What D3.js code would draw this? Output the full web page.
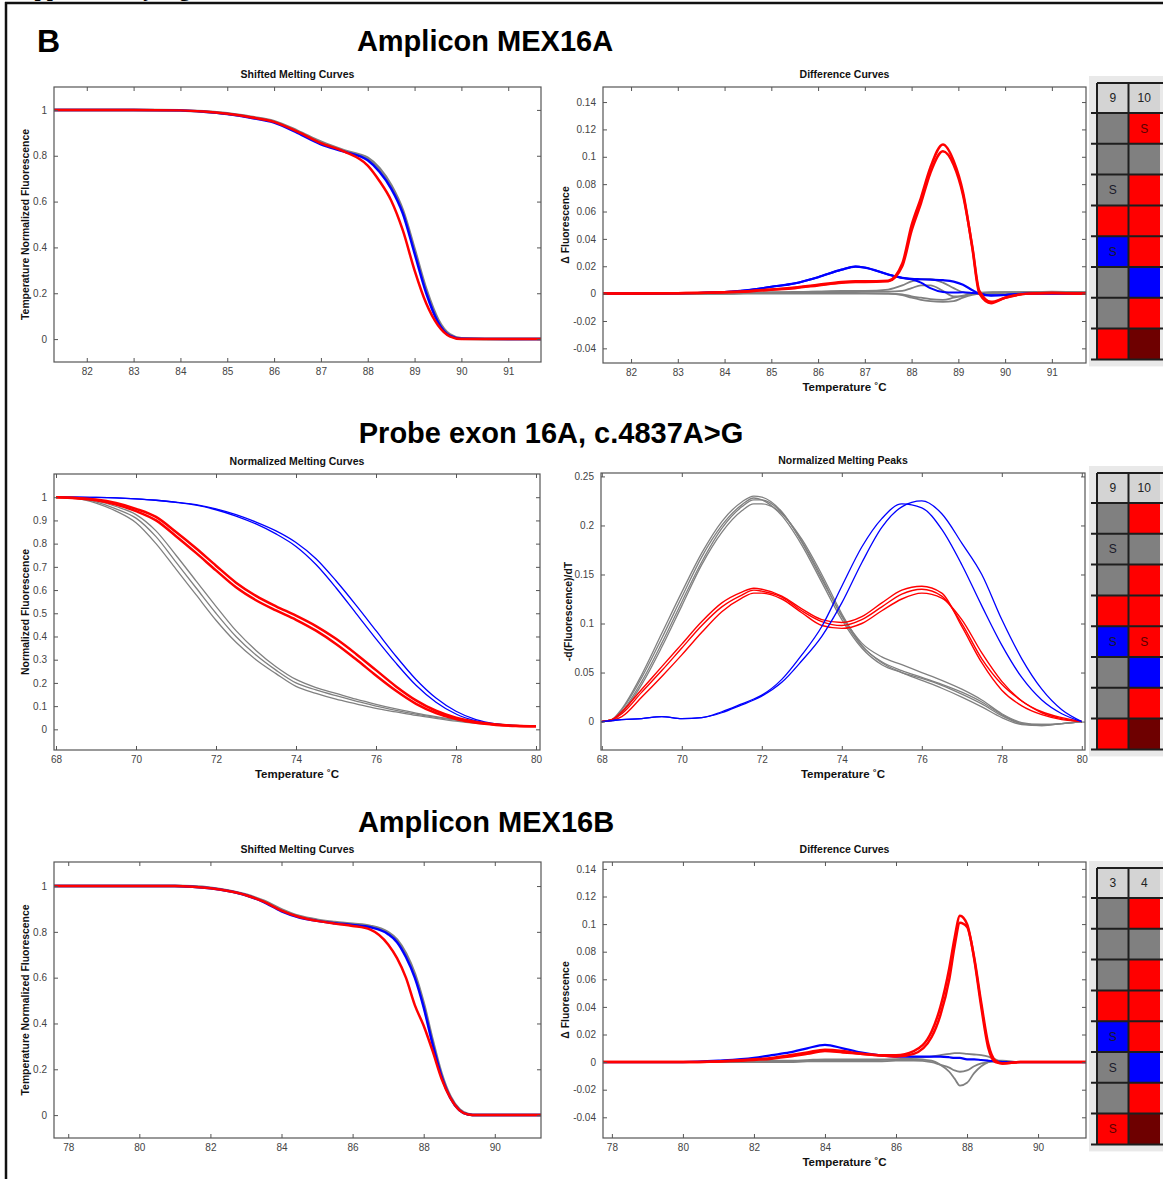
<!DOCTYPE html>
<html>
<head>
<meta charset="utf-8">
<script src="https://d3js.org/d3.v7.min.js"></script>
<style>
  body { margin: 0; background: #fff; }
  svg text { font-family: "Liberation Sans", Arial, sans-serif; }
  .tick text { fill: #444; font-size: 10px; }
  .tick line { stroke: #555; }
  .ptitle { font-weight: bold; font-size: 10.5px; fill: #111; }
  .alabel { font-weight: bold; font-size: 10.4px; fill: #111; }
  .maintitle { font-weight: bold; font-size: 29px; fill: #000; }
</style>
</head>
<body>
<svg id="fig" width="1163" height="1179"></svg>
<script>
/*
    DATA
    one temperature array per panel, one value array per curve
*/

// Amplicon MEX16A, shifted melting curves
var t1 = [81.3, 82, 83, 84, 84.5, 85, 85.5, 86, 86.5, 87, 87.5, 88, 88.25, 88.5, 88.75, 89, 89.25, 89.5, 89.75, 90, 91, 91.7];
var p1Gray = [1, 1, 1, 0.998, 0.993, 0.984, 0.969, 0.95, 0.908, 0.86, 0.822, 0.79, 0.745, 0.67, 0.56, 0.39, 0.215, 0.085, 0.02, 0.003, 0, 0];
var p1Blue = [1, 1, 1, 0.998, 0.992, 0.982, 0.966, 0.945, 0.9, 0.85, 0.818, 0.78, 0.73, 0.657, 0.548, 0.374, 0.2, 0.074, 0.015, 0.002, 0, 0];
var p1Red  = [1, 1, 1, 0.998, 0.993, 0.983, 0.968, 0.948, 0.905, 0.855, 0.818, 0.757, 0.69, 0.605, 0.474, 0.30, 0.155, 0.06, 0.012, 0, 0, 0];

// Amplicon MEX16A, difference curves
var t2 = [81.4, 82, 83, 84, 84.5, 85, 85.5, 86, 86.5, 86.8, 87, 87.5, 87.8, 88, 88.2, 88.4, 88.67, 88.9, 89.1, 89.3, 89.45, 89.7, 90, 90.5, 91, 91.73];
var p2Gray1 = [0, 0, 0, 0, 0.0005, 0.0008, 0.001, 0.0015, 0.002, 0.002, 0.002, 0.003, 0.006, 0.009, 0.0105, 0.0105, 0.008, 0.004, 0.001, 0, 0, 0, 0.0005, 0.001, 0.001, 0];
var p2Gray2 = [0, 0, 0, 0, 0.0003, 0.0005, 0.0005, 0.0005, 0.0005, 0.0005, 0.0003, 0, -0.001, -0.003, -0.0045, -0.0055, -0.006, -0.0055, -0.003, -0.001, 0, 0.0005, 0.0008, 0.001, 0.0015, 0.001];
var p2Gray3 = [0, 0, 0, 0.0002, 0.0005, 0.001, 0.0012, 0.0015, 0.0015, 0.0015, 0.0015, 0.0015, 0.002, 0.004, 0.006, 0.006, 0.002, -0.002, -0.002, 0, 0.0005, 0.0008, 0.001, 0.001, 0.0012, 0.001];
var p2Gray4 = [0, 0, 0, 0, 0, 0, 0, 0, 0, 0, 0, 0, -0.0005, -0.002, -0.003, -0.004, -0.0045, -0.003, -0.0015, 0, 0.0008, 0.001, 0.001, 0.0005, 0.001, 0.0005];
var p2Blue1 = [0, 0, 0.0003, 0.0012, 0.0025, 0.005, 0.0075, 0.012, 0.0175, 0.0198, 0.019, 0.014, 0.0115, 0.0108, 0.0105, 0.0102, 0.0098, 0.0088, 0.0065, 0.0025, 0, -0.0015, -0.001, 0, 0, 0];
var p2Blue2 = [0, 0, 0.0003, 0.0012, 0.0025, 0.005, 0.0075, 0.012, 0.0175, 0.0198, 0.019, 0.014, 0.0115, 0.0105, 0.008, 0.004, 0.0012, 0.0008, 0.001, 0.0005, 0, -0.0012, -0.001, 0, 0, 0];
var p2Red1 = [0, 0, 0.0003, 0.001, 0.0018, 0.003, 0.0045, 0.0065, 0.0085, 0.009, 0.009, 0.0095, 0.022, 0.05, 0.07, 0.092, 0.109, 0.097, 0.074, 0.033, 0.0, -0.007, -0.003, 0, 0.0005, 0];
var p2Red2 = [0, 0, 0.0003, 0.001, 0.0016, 0.0028, 0.004, 0.006, 0.008, 0.0085, 0.0085, 0.009, 0.02, 0.046, 0.066, 0.088, 0.104, 0.094, 0.072, 0.034, 0.002, -0.006, -0.003, 0, 0.0005, 0];

// Probe exon 16A, normalized melting curves
var t3 = [68, 68.5, 69, 69.5, 70, 70.5, 71, 71.5, 72, 72.5, 73, 73.5, 74, 74.5, 75, 75.5, 76, 76.5, 77, 77.5, 78, 78.5, 79, 79.5, 80];
var p3GrayA = [1, 0.997, 0.98, 0.95, 0.91, 0.83, 0.72, 0.61, 0.50, 0.40, 0.32, 0.255, 0.2, 0.17, 0.145, 0.122, 0.1, 0.082, 0.066, 0.052, 0.04, 0.03, 0.022, 0.016, 0.013];
var p3GrayB = [1, 0.995, 0.975, 0.94, 0.89, 0.8, 0.69, 0.58, 0.47, 0.375, 0.3, 0.24, 0.185, 0.155, 0.13, 0.11, 0.09, 0.075, 0.06, 0.047, 0.035, 0.026, 0.02, 0.015, 0.013];
var p3GrayC = [1, 0.998, 0.985, 0.96, 0.925, 0.855, 0.75, 0.64, 0.53, 0.425, 0.34, 0.27, 0.215, 0.18, 0.155, 0.13, 0.108, 0.088, 0.07, 0.055, 0.042, 0.032, 0.023, 0.017, 0.013];
var p3Red1 = [1, 0.997, 0.99, 0.975, 0.95, 0.915, 0.85, 0.78, 0.705, 0.632, 0.575, 0.53, 0.49, 0.445, 0.39, 0.325, 0.255, 0.185, 0.125, 0.08, 0.05, 0.032, 0.021, 0.015, 0.013];
var p3Red2 = [1, 0.996, 0.987, 0.968, 0.94, 0.9, 0.832, 0.76, 0.685, 0.612, 0.556, 0.512, 0.472, 0.425, 0.368, 0.302, 0.232, 0.166, 0.11, 0.07, 0.044, 0.028, 0.019, 0.014, 0.013];
var p3Blue1 = [1, 1, 0.999, 0.997, 0.993, 0.987, 0.979, 0.968, 0.95, 0.925, 0.893, 0.855, 0.805, 0.735, 0.64, 0.535, 0.425, 0.315, 0.215, 0.135, 0.078, 0.042, 0.024, 0.016, 0.013];
var p3Blue2 = [1, 1, 0.999, 0.997, 0.993, 0.987, 0.978, 0.966, 0.946, 0.919, 0.885, 0.842, 0.788, 0.71, 0.61, 0.5, 0.39, 0.285, 0.19, 0.117, 0.066, 0.036, 0.021, 0.015, 0.013];

// Probe exon 16A, normalized melting peaks
var t4 = [68, 68.25, 68.5, 69, 69.5, 70, 70.5, 71, 71.5, 71.8, 72, 72.5, 73, 73.5, 74, 74.5, 75, 75.5, 76, 76.5, 77, 77.5, 78, 78.5, 79, 79.5, 80];
var p4Gray1 = [0, 0.002, 0.012, 0.045, 0.085, 0.127, 0.168, 0.2, 0.221, 0.228, 0.226, 0.21, 0.18, 0.142, 0.104, 0.075, 0.058, 0.05, 0.044, 0.037, 0.028, 0.018, 0.006, -0.002, -0.003, -0.002, 0];
var p4Gray2 = [0, 0.001, 0.009, 0.038, 0.076, 0.118, 0.16, 0.193, 0.215, 0.222, 0.222, 0.212, 0.186, 0.15, 0.11, 0.078, 0.06, 0.05, 0.042, 0.034, 0.025, 0.015, 0.004, -0.003, -0.004, -0.002, 0];
var p4Gray3 = [0, 0.002, 0.013, 0.048, 0.09, 0.132, 0.172, 0.204, 0.224, 0.23, 0.229, 0.214, 0.183, 0.145, 0.108, 0.08, 0.066, 0.058, 0.05, 0.042, 0.033, 0.022, 0.008, -0.001, -0.003, -0.002, 0];
var p4Gray4 = [0, 0.001, 0.01, 0.041, 0.08, 0.122, 0.163, 0.197, 0.219, 0.226, 0.226, 0.213, 0.184, 0.147, 0.107, 0.077, 0.061, 0.052, 0.045, 0.038, 0.03, 0.02, 0.007, -0.002, -0.004, -0.002, 0];
var p4Red1 = [0, 0.002, 0.008, 0.03, 0.052, 0.075, 0.098, 0.117, 0.129, 0.134, 0.133, 0.127, 0.113, 0.102, 0.098, 0.104, 0.117, 0.13, 0.135, 0.128, 0.1, 0.064, 0.038, 0.021, 0.009, 0.003, 0];
var p4Red2 = [0, 0.001, 0.005, 0.025, 0.046, 0.068, 0.091, 0.112, 0.126, 0.131, 0.131, 0.125, 0.111, 0.098, 0.095, 0.1, 0.113, 0.125, 0.131, 0.126, 0.104, 0.07, 0.041, 0.021, 0.01, 0.004, 0];
var p4Red3 = [0, 0.002, 0.01, 0.033, 0.056, 0.079, 0.102, 0.121, 0.132, 0.136, 0.135, 0.128, 0.115, 0.104, 0.101, 0.107, 0.121, 0.134, 0.138, 0.131, 0.097, 0.06, 0.032, 0.016, 0.007, 0.002, 0];
var p4Blue1 = [0, 0.001, 0.002, 0.003, 0.005, 0.003, 0.004, 0.01, 0.018, 0.023, 0.027, 0.043, 0.068, 0.097, 0.138, 0.178, 0.207, 0.222, 0.218, 0.196, 0.16, 0.118, 0.078, 0.045, 0.022, 0.008, 0];
var p4Blue2 = [0, 0.001, 0.002, 0.003, 0.005, 0.003, 0.004, 0.009, 0.017, 0.022, 0.026, 0.04, 0.062, 0.087, 0.121, 0.162, 0.198, 0.219, 0.225, 0.212, 0.182, 0.15, 0.104, 0.064, 0.033, 0.012, 0];

// Amplicon MEX16B, shifted melting curves
var t5 = [77.6, 78, 80, 81, 81.5, 82, 82.5, 83, 83.5, 84, 84.5, 85, 85.5, 86, 86.5, 87, 87.25, 87.5, 87.75, 88, 88.25, 88.5, 88.75, 89, 89.25, 89.5, 90, 91.3];
var p5Gray = [1, 1, 1, 1, 0.998, 0.992, 0.98, 0.962, 0.935, 0.897, 0.868, 0.852, 0.842, 0.834, 0.825, 0.797, 0.765, 0.705, 0.615, 0.485, 0.325, 0.18, 0.08, 0.025, 0.004, 0, 0, 0];
var p5Blue = [1, 1, 1, 1, 0.997, 0.99, 0.978, 0.96, 0.93, 0.89, 0.863, 0.848, 0.838, 0.83, 0.82, 0.79, 0.755, 0.69, 0.6, 0.47, 0.31, 0.17, 0.075, 0.022, 0.003, 0, 0, 0];
var p5Red  = [1, 1, 1, 1, 0.997, 0.99, 0.978, 0.96, 0.932, 0.893, 0.865, 0.848, 0.836, 0.826, 0.81, 0.745, 0.685, 0.6, 0.48, 0.39, 0.28, 0.16, 0.075, 0.022, 0.003, 0, 0, 0];

// Amplicon MEX16B, difference curves
var t6 = [77.75, 78, 80, 81, 82, 82.5, 83, 83.5, 84, 84.5, 85, 85.5, 86, 86.5, 87, 87.25, 87.5, 87.65, 87.8, 88, 88.2, 88.4, 88.6, 88.8, 89, 89.5, 90, 91.35];
var p6Gray1 = [0, 0, 0, 0, 0.0005, 0.001, 0.001, 0.0015, 0.002, 0.002, 0.002, 0.002, 0.002, 0.002, 0.001, -0.002, -0.007, -0.012, -0.017, -0.015, -0.008, -0.003, 0, 0.001, 0.001, 0, 0, 0];
var p6Gray2 = [0, 0, 0, 0, 0, 0.0005, 0.0005, 0.001, 0.001, 0.001, 0.001, 0.0015, 0.002, 0.003, 0.004, 0.005, 0.006, 0.0065, 0.0065, 0.006, 0.0055, 0.005, 0.004, 0.002, 0, 0, 0, 0];
var p6Gray3 = [0, 0, 0, 0, 0, 0, 0, 0.0005, 0.0005, 0.0005, 0.0005, 0.0005, 0.001, 0.001, 0, -0.002, -0.004, -0.006, -0.007, -0.006, -0.003, -0.001, 0, 0.0005, 0, 0, 0, 0];
var p6Blue = [0, 0, 0, 0.001, 0.003, 0.005, 0.007, 0.01, 0.0125, 0.01, 0.007, 0.005, 0.004, 0.004, 0.004, 0.004, 0.0035, 0.003, 0.003, 0.002, 0.002, 0.0015, 0.001, 0.0005, 0, 0, 0, 0];
var p6Red1 = [0, 0, 0, 0.0005, 0.002, 0.003, 0.005, 0.007, 0.009, 0.008, 0.006, 0.005, 0.005, 0.008, 0.022, 0.04, 0.068, 0.09, 0.106, 0.1, 0.075, 0.04, 0.01, 0, -0.001, 0, 0, 0];
var p6Red2 = [0, 0, 0, 0.0005, 0.0015, 0.0025, 0.004, 0.006, 0.008, 0.007, 0.006, 0.005, 0.004, 0.006, 0.018, 0.034, 0.06, 0.084, 0.101, 0.098, 0.076, 0.043, 0.013, 0.001, -0.001, 0, 0, 0];

// tick values
var ticksA = [82, 83, 84, 85, 86, 87, 88, 89, 90, 91];
var ticksProbe = [68, 70, 72, 74, 76, 78, 80];
var ticksB = [78, 80, 82, 84, 86, 88, 90];
var ticksNorm = [0, 0.2, 0.4, 0.6, 0.8, 1];
var ticksDiff = [-0.04, -0.02, 0, 0.02, 0.04, 0.06, 0.08, 0.1, 0.12, 0.14];
var ticksProbeNorm = [0, 0.1, 0.2, 0.3, 0.4, 0.5, 0.6, 0.7, 0.8, 0.9, 1];
var ticksPeaks = [0, 0.05, 0.1, 0.15, 0.2, 0.25];

// plate maps (g gray, r red, b blue, d dark red) and "S" marks
var plateAHeader = ["9", "10"];
var plateACells = [["g","r"],["g","g"],["g","r"],["r","r"],["b","r"],["g","b"],["g","r"],["r","d"]];
var plateAMarks = [["","S"],["",""],["S",""],["",""],["S",""],["",""],["",""],["",""]];
var plateBHeader = ["9", "10"];
var plateBCells = [["g","r"],["g","g"],["g","r"],["r","r"],["b","r"],["g","b"],["g","r"],["r","d"]];
var plateBMarks = [["",""],["S",""],["",""],["",""],["S","S"],["",""],["",""],["",""]];
var plateCHeader = ["3", "4"];
var plateCCells = [["g","r"],["g","g"],["g","r"],["r","r"],["b","r"],["g","b"],["g","r"],["r","d"]];
var plateCMarks = [["",""],["",""],["",""],["",""],["S",""],["S",""],["",""],["S",""]];

/*
    STYLE
*/
var GRAY = "#808080", RED = "#ff0000", BLUE = "#0000ff";
var cellFill = {g: "#808080", r: "#ff0000", b: "#0000ff", d: "#6e0000"};

var svg = d3.select("#fig");

function serie(temps, vals, color, width) {
  return {temps: temps, values: vals, color: color, width: width};
}

var panels = [
  {id: "p1", left: 54, right: 541, top: 87, bottom: 362, xDomain: [81.3, 91.7], yDomain: [-0.1, 1.1],
   xTicks: ticksA, yTicks: ticksNorm, title: "Shifted Melting Curves",
   ylabel: "Temperature Normalized Fluorescence", ylabelX: 25, xlabel: null,
   series: [serie(t1, p1Gray, GRAY, 3), serie(t1, p1Blue, BLUE, 2.5), serie(t1, p1Red, RED, 2.5)]},
  {id: "p2", left: 603, right: 1086, top: 87, bottom: 363, xDomain: [81.4, 91.73], yDomain: [-0.0507, 0.151],
   xTicks: ticksA, yTicks: ticksDiff, title: "Difference Curves",
   ylabel: "\u0394 Fluorescence", ylabelX: 565, xlabel: "Temperature \u02DAC",
   series: [serie(t2, p2Gray1, GRAY, 1.8), serie(t2, p2Gray2, GRAY, 1.8), serie(t2, p2Gray3, GRAY, 1.8), serie(t2, p2Gray4, GRAY, 1.8),
            serie(t2, p2Blue1, BLUE, 2.2), serie(t2, p2Blue2, BLUE, 2),
            serie(t2, p2Red2, RED, 2.5), serie(t2, p2Red1, RED, 2.5)]},
  {id: "p3", left: 54, right: 540, top: 474, bottom: 750, xDomain: [67.95, 80.1], yDomain: [-0.089, 1.1],
   xTicks: ticksProbe, yTicks: ticksProbeNorm, title: "Normalized Melting Curves",
   ylabel: "Normalized Fluorescence", ylabelX: 25, xlabel: "Temperature \u02DAC",
   series: [serie(t3, p3GrayB, GRAY, 1.3), serie(t3, p3GrayA, GRAY, 1.3), serie(t3, p3GrayC, GRAY, 1.3),
            serie(t3, p3Blue1, BLUE, 1.3), serie(t3, p3Blue2, BLUE, 1.3),
            serie(t3, p3Red1, RED, 2.5), serie(t3, p3Red2, RED, 2.5)]},
  {id: "p4", left: 601, right: 1085, top: 473, bottom: 750, xDomain: [67.98, 80.08], yDomain: [-0.029, 0.2535],
   xTicks: ticksProbe, yTicks: ticksPeaks, title: "Normalized Melting Peaks",
   ylabel: "-d(Fluorescence)/dT", ylabelX: 568, xlabel: "Temperature \u02DAC",
   series: [serie(t4, p4Gray1, GRAY, 1.3), serie(t4, p4Gray2, GRAY, 1.3), serie(t4, p4Gray3, GRAY, 1.3), serie(t4, p4Gray4, GRAY, 1.3),
            serie(t4, p4Red1, RED, 1.4), serie(t4, p4Red2, RED, 1.4), serie(t4, p4Red3, RED, 1.4),
            serie(t4, p4Blue1, BLUE, 1.3), serie(t4, p4Blue2, BLUE, 1.3)]},
  {id: "p5", left: 54, right: 541, top: 862, bottom: 1138, xDomain: [77.6, 91.3], yDomain: [-0.1, 1.105],
   xTicks: ticksB, yTicks: ticksNorm, title: "Shifted Melting Curves",
   ylabel: "Temperature Normalized Fluorescence", ylabelX: 25, xlabel: null,
   series: [serie(t5, p5Gray, GRAY, 3), serie(t5, p5Blue, BLUE, 2.5), serie(t5, p5Red, RED, 2.5)]},
  {id: "p6", left: 603, right: 1086, top: 862, bottom: 1138, xDomain: [77.75, 91.35], yDomain: [-0.055, 0.145],
   xTicks: ticksB, yTicks: ticksDiff, title: "Difference Curves",
   ylabel: "\u0394 Fluorescence", ylabelX: 565, xlabel: "Temperature \u02DAC",
   series: [serie(t6, p6Gray1, GRAY, 1.8), serie(t6, p6Gray2, GRAY, 1.8), serie(t6, p6Gray3, GRAY, 1.8),
            serie(t6, p6Blue, BLUE, 2.2),
            serie(t6, p6Red2, RED, 2.5), serie(t6, p6Red1, RED, 2.5)]}
];

var plates = [
  {top: 83, header: plateAHeader, cells: plateACells, marks: plateAMarks},
  {top: 473, header: plateBHeader, cells: plateBCells, marks: plateBMarks},
  {top: 868, header: plateCHeader, cells: plateCCells, marks: plateCMarks}
];

/*
    DRAW
*/
function fmtTick(d) { return String(+d.toFixed(2)); }

function drawPanel(p) {
  var w = p.right - p.left, h = p.bottom - p.top;
  var g = svg.append("g").attr("transform", "translate(" + p.left + "," + p.top + ")");

  var x = d3.scaleLinear().domain(p.xDomain).range([0, w]);
  var y = d3.scaleLinear().domain(p.yDomain).range([h, 0]);

  g.append("clipPath").attr("id", p.id + "-clip")
    .append("rect").attr("width", w).attr("height", h);

  var line = d3.line()
    .x(function(d) { return x(d[0]); })
    .y(function(d) { return y(d[1]); })
    .curve(d3.curveMonotoneX);

  var plot = g.append("g").attr("clip-path", "url(#" + p.id + "-clip)");
  p.series.forEach(function(s) {
    plot.append("path")
      .datum(s.values.map(function(v, i) { return [s.temps[i], v]; }))
      .attr("fill", "none")
      .attr("stroke", s.color)
      .attr("stroke-width", s.width)
      .attr("stroke-linejoin", "round")
      .attr("d", line);
  });

  // MATLAB-like box, ticks inward on all sides
  g.append("g").attr("transform", "translate(0," + h + ")")
    .call(d3.axisBottom(x).tickValues(p.xTicks).tickSizeInner(-4).tickSizeOuter(0).tickPadding(6).tickFormat(d3.format("d")));
  g.append("g")
    .call(d3.axisTop(x).tickValues(p.xTicks).tickSizeInner(-4).tickSizeOuter(0).tickFormat(""));
  g.append("g")
    .call(d3.axisLeft(y).tickValues(p.yTicks).tickSizeInner(-4).tickSizeOuter(0).tickPadding(7).tickFormat(fmtTick));
  g.append("g").attr("transform", "translate(" + w + ",0)")
    .call(d3.axisRight(y).tickValues(p.yTicks).tickSizeInner(-4).tickSizeOuter(0).tickFormat(""));
  g.selectAll(".domain").remove();
  g.selectAll(".tick text").attr("font-family", null);

  g.append("rect").attr("width", w).attr("height", h)
    .attr("fill", "none").attr("stroke", "#555").attr("stroke-width", 1.2);

  svg.append("text").attr("class", "ptitle")
    .attr("x", p.left + w / 2).attr("y", p.top - 9)
    .attr("text-anchor", "middle").text(p.title);

  svg.append("text").attr("class", "alabel")
    .attr("transform", "translate(" + p.ylabelX + "," + (p.top + h / 2) + ") rotate(-90)")
    .attr("text-anchor", "middle").attr("dy", "0.35em").text(p.ylabel);

  if (p.xlabel) {
    svg.append("text").attr("class", "alabel")
      .attr("x", p.left + w / 2).attr("y", p.bottom + 28)
      .attr("text-anchor", "middle").style("font-size", "11.5px").text(p.xlabel);
  }
}

function drawPlate(pl) {
  var x0 = 1097, colW = 31.5, headH = 30, rowH = 30.8;
  var nRows = pl.cells.length;
  var bottom = pl.top + headH + nRows * rowH;
  var g = svg.append("g");

  g.append("rect").attr("x", 1089).attr("y", pl.top - 7)
    .attr("width", 80).attr("height", bottom - pl.top + 14).attr("fill", "#e9e9e9");

  pl.header.forEach(function(hd, j) {
    g.append("rect").attr("x", x0 + j * colW).attr("y", pl.top)
      .attr("width", colW).attr("height", headH).attr("fill", "#d4d4d4");
    g.append("text").attr("x", x0 + j * colW + colW / 2).attr("y", pl.top + headH / 2)
      .attr("dy", "0.35em").attr("text-anchor", "middle")
      .style("font-size", "12px").style("fill", "#222").text(hd);
  });

  pl.cells.forEach(function(row, i) {
    row.forEach(function(c, j) {
      var cx = x0 + j * colW, cy = pl.top + headH + i * rowH;
      g.append("rect").attr("x", cx).attr("y", cy)
        .attr("width", colW).attr("height", rowH).attr("fill", cellFill[c]);
      if (pl.marks[i][j]) {
        g.append("text").attr("x", cx + colW / 2).attr("y", cy + rowH / 2)
          .attr("dy", "0.35em").attr("text-anchor", "middle")
          .style("font-size", "12px").style("fill", c === "r" ? "#5a0000" : "#1a1a2a").text(pl.marks[i][j]);
      }
    });
  });

  // grid lines; row lines stick out to the left
  for (var i = 0; i <= nRows; i++) {
    var yy = pl.top + headH + i * rowH;
    g.append("line").attr("x1", 1091).attr("x2", 1163).attr("y1", yy).attr("y2", yy)
      .attr("stroke", "#1e1e1e").attr("stroke-width", 2);
  }
  g.append("line").attr("x1", x0).attr("x2", 1163).attr("y1", pl.top).attr("y2", pl.top)
    .attr("stroke", "#1e1e1e").attr("stroke-width", 2);
  [x0, x0 + colW].forEach(function(xx) {
    g.append("line").attr("x1", xx).attr("x2", xx).attr("y1", pl.top).attr("y2", bottom)
      .attr("stroke", "#1e1e1e").attr("stroke-width", 2);
  });
}

// outer frame and cropped caption from the page above
svg.append("text").attr("x", 10).attr("y", -4)
  .style("font-family", "'Liberation Serif', serif").style("font-weight", "bold").style("font-size", "22px")
  .text("Supplementary Fig");
svg.append("line").attr("x1", 5).attr("x2", 1163).attr("y1", 3).attr("y2", 3)
  .attr("stroke", "#111").attr("stroke-width", 2.5);
svg.append("line").attr("x1", 6).attr("x2", 6).attr("y1", 2).attr("y2", 1179)
  .attr("stroke", "#111").attr("stroke-width", 2.5);

svg.append("text").attr("x", 37).attr("y", 52)
  .style("font-weight", "bold").style("font-size", "32px").text("B");

svg.append("text").attr("class", "maintitle").attr("x", 485).attr("y", 51)
  .attr("text-anchor", "middle").text("Amplicon MEX16A");
svg.append("text").attr("class", "maintitle").attr("x", 551).attr("y", 443)
  .attr("text-anchor", "middle").text("Probe exon 16A, c.4837A>G");
svg.append("text").attr("class", "maintitle").attr("x", 486).attr("y", 832)
  .attr("text-anchor", "middle").text("Amplicon MEX16B");

panels.forEach(drawPanel);
plates.forEach(drawPlate);
</script>
</body>
</html>
